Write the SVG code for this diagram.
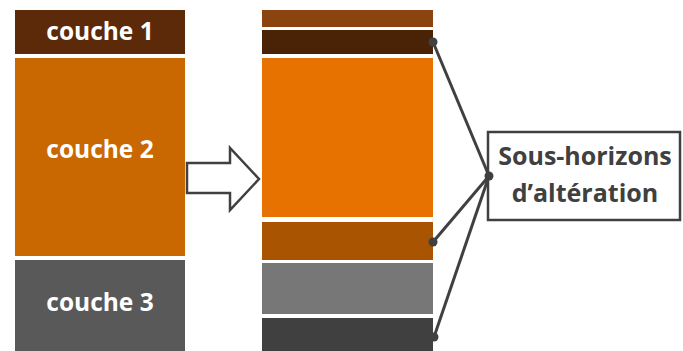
<svg xmlns="http://www.w3.org/2000/svg" width="683" height="351" viewBox="0 0 683 351">
<style>
.lbl{font-family:"Open Sans","Liberation Sans",sans-serif;font-weight:700;font-size:24.5px;fill:#ffffff;text-anchor:middle}
.box{font-family:"Open Sans","Liberation Sans",sans-serif;font-weight:700;font-size:25px;fill:#404040;text-anchor:middle}
.ln{stroke:#404040;stroke-width:3;fill:none}
</style>
<rect width="683" height="351" fill="#ffffff"/>
<g id="couche1"><rect x="15" y="10" width="170" height="44" fill="#5c2a08"/><text class="lbl" x="100" y="40">couche 1</text></g>
<g id="couche2"><rect x="15" y="58" width="170" height="198" fill="#c96800"/><text class="lbl" x="100" y="158">couche 2</text></g>
<g id="couche3"><rect x="15" y="260" width="170" height="91" fill="#595959"/><text class="lbl" x="100" y="311">couche 3</text></g>
<g id="arrow"><path d="M187,163 H230 V148 L259,179 L230,210 V193 H187 Z" fill="#ffffff" stroke="#404040" stroke-width="2.5" stroke-linejoin="miter"/></g>
<g id="b1"><rect x="262" y="10" width="171" height="17" fill="#8b4410"/></g>
<g id="b2"><rect x="262" y="30" width="171" height="24" fill="#4a2306"/></g>
<g id="b3"><rect x="262" y="58" width="171" height="159" fill="#e87200"/></g>
<g id="b4"><rect x="262" y="222" width="171" height="38" fill="#a85400"/></g>
<g id="b5"><rect x="262" y="263" width="171" height="51" fill="#777777"/></g>
<g id="b6"><rect x="262" y="318" width="171" height="33" fill="#404040"/></g>
<g id="label"><rect x="488" y="132" width="192" height="88" fill="#ffffff" stroke="#404040" stroke-width="2.5"/>
<text class="box" x="585" y="165">Sous-horizons</text>
<text class="box" x="585" y="202">d’altération</text></g>
<g id="connectors">
<line class="ln" x1="433" y1="42" x2="489" y2="176"/>
<line class="ln" x1="433" y1="242" x2="489" y2="176"/>
<line class="ln" x1="434" y1="337" x2="489" y2="176"/>
<circle cx="433" cy="42" r="4.5" fill="#404040"/>
<circle cx="433" cy="242" r="4.5" fill="#404040"/>
<circle cx="434" cy="337" r="4.5" fill="#404040"/>
<circle cx="489" cy="176" r="4.5" fill="#404040"/>
</g>
</svg>
